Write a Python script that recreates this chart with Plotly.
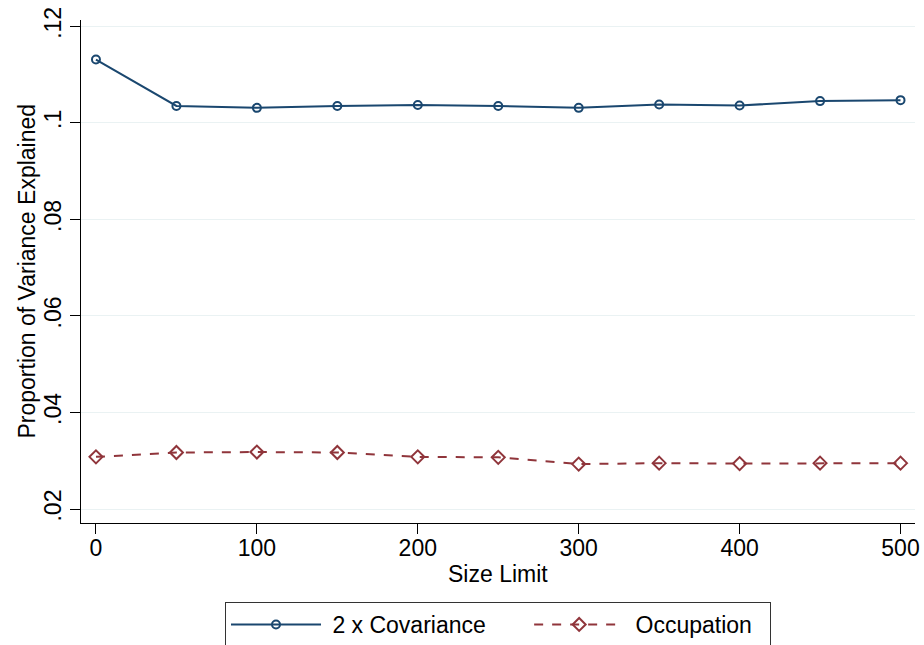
import plotly.graph_objects as go

size_limit = [0, 50, 100, 150, 200, 250, 300, 350, 400, 450, 500]
covariance = [0.1131, 0.1035, 0.1031, 0.1035, 0.1037, 0.1035, 0.1031, 0.1038, 0.1036, 0.1045, 0.1047]
occupation = [0.0308, 0.0317, 0.0318, 0.0317, 0.0308, 0.0307, 0.0293, 0.0295, 0.0294, 0.0295, 0.0295]
y_ticks = [0.02, 0.04, 0.06, 0.08, 0.10, 0.12]
y_ticktext = [".02", ".04", ".06", ".08", ".1", ".12"]
x_ticks = [0, 100, 200, 300, 400, 500]
series_names = ["2 x Covariance", "Occupation"]
x_title = "Size Limit"
y_title = "Proportion of Variance Explained"

navy = "#1a476f"
maroon = "#90353b"
sp = "\u00a0"

fig = go.Figure()
fig.add_trace(go.Scatter(
    x=size_limit, y=covariance, mode="lines+markers", name=sp + series_names[0] + sp * 6,
    line=dict(color=navy, width=2),
    marker=dict(symbol="circle-open", size=8, color=navy, line=dict(width=2, color=navy)),
))
fig.add_trace(go.Scatter(
    x=size_limit, y=occupation, mode="lines+markers", name=sp + series_names[1] + sp * 2,
    line=dict(color=maroon, width=2, dash="dash"),
    marker=dict(symbol="diamond-open", size=10, color=maroon, line=dict(width=2, color=maroon)),
))

font_family = "Liberation Sans, Arial, sans-serif"
L, R, T, B = 81, 9, 20, 122
plot_w = 924 - L - R
plot_h = 645 - T - B

fig.update_layout(
    width=924, height=645,
    margin=dict(l=L, r=R, t=T, b=B, autoexpand=False),
    paper_bgcolor="white", plot_bgcolor="white",
    font=dict(family=font_family, size=23, color="black"),
    showlegend=True,
    legend=dict(
        orientation="h", x=0.5, xanchor="center", y=-(602 - (645 - B)) / plot_h, yanchor="top",
        bordercolor="#333333", borderwidth=1, bgcolor="white",
        font=dict(size=23), itemwidth=90,
    ),
    xaxis=dict(
        range=[-9.3, 509], tickvals=x_ticks, showgrid=False, zeroline=False,
        showline=True, linecolor="black", linewidth=1, automargin=False,
        ticks="outside", ticklen=10, tickcolor="black", ticklabelstandoff=-6,
        tickfont=dict(size=23),
    ),
    yaxis=dict(
        range=[0.0171, 0.1213], tickvals=y_ticks, ticktext=y_ticktext,
        showgrid=True, gridcolor="#eaf2f3", gridwidth=1, zeroline=False,
        showline=True, linecolor="black", linewidth=1, automargin=False,
        ticks="outside", ticklen=10, tickcolor="black", tickangle=-90, ticklabelstandoff=0,
        tickfont=dict(size=23),
    ),
    annotations=[
        dict(text=x_title, xref="paper", yref="paper", x=0.5, y=-(574 - (645 - B)) / plot_h,
             xanchor="center", yanchor="middle", showarrow=False, font=dict(size=23)),
        dict(text=y_title, xref="paper", yref="paper", x=(26 - L) / plot_w, y=0.5,
             xanchor="center", yanchor="middle", textangle=-90, showarrow=False,
             font=dict(size=23)),
    ],
)

fig.write_html(
    "out.html",
    config={"displayModeBar": False},
    post_script="document.body.style.margin='0';document.body.style.overflow='hidden';",
)
